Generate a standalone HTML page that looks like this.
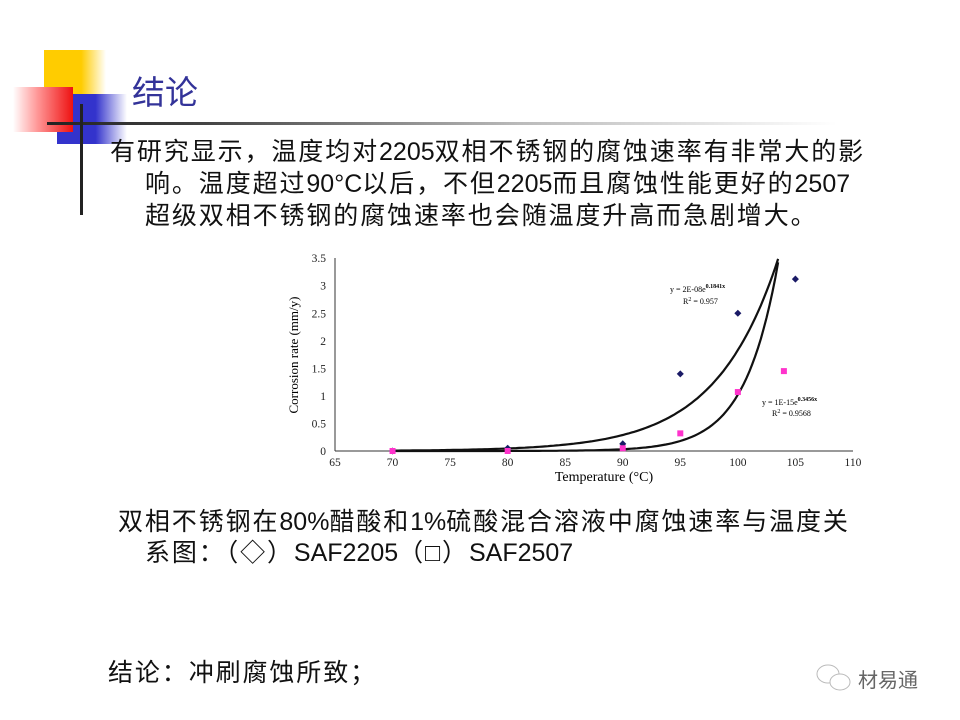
<!DOCTYPE html>
<html><head><meta charset="utf-8"><style>
html,body{margin:0;padding:0;background:#fff;}
body{width:960px;height:720px;position:relative;overflow:hidden;font-family:"Liberation Sans","Noto Sans CJK SC",sans-serif;}
.a{position:absolute;}
.t{position:absolute;font-size:25px;color:#111;white-space:nowrap;line-height:32px;letter-spacing:1.9px;}
.t b{font-weight:normal;letter-spacing:0;font-size:25px;}
</style></head><body>
<div class="a" style="left:44px;top:50px;width:62px;height:50px;background:linear-gradient(90deg,#ffcc00 0%,#ffcc00 60%,#fff 100%);"></div>
<div class="a" style="left:57px;top:94px;width:70px;height:50px;background:linear-gradient(90deg,#3333cc 0%,#3333cc 55%,#fff 100%);"></div>
<div class="a" style="left:13px;top:87px;width:60px;height:45px;background:linear-gradient(90deg,#fff 0%,#ff9999 40%,#ee1111 100%);"></div>
<div class="a" style="left:47px;top:122px;width:790px;height:3px;background:linear-gradient(90deg,#222 0%,#444 20%,#bbb 60%,#fff 100%);"></div>
<div class="a" style="left:80px;top:104px;width:3px;height:111px;background:#222;"></div>
<div class="a" style="left:132px;top:66px;font-size:33px;color:#333399;font-family:'Noto Sans CJK SC',sans-serif;">结论</div>
<div class="t" style="left:110px;top:136px;">有研究显示，温度均对<b>2205</b>双相不锈钢的腐蚀速率有非常大的影</div>
<div class="t" style="left:145px;top:168px;">响。温度超过<b>90°C</b>以后，不但<b>2205</b>而且腐蚀性能更好的<b>2507</b></div>
<div class="t" style="left:145px;top:200px;">超级双相不锈钢的腐蚀速率也会随温度升高而急剧增大。</div>
<svg class="a" style="left:0;top:0" width="960" height="720" font-family="Liberation Serif,serif">
<g stroke="#333" stroke-width="1" fill="none">
<line x1="335" y1="258" x2="335" y2="451"/><line x1="335" y1="451" x2="853" y2="451"/>
</g>
<g id="ax" font-size="11.5" fill="#222"></g>
<text x="298" y="355" font-size="13" transform="rotate(-90 298 355)" text-anchor="middle">Corrosion rate (mm/y)</text>
<text x="604" y="481" font-size="14" text-anchor="middle">Temperature (°C)</text>
<path id="c1" fill="none" stroke="#111" stroke-width="2.2"/>
<path id="c2" fill="none" stroke="#111" stroke-width="2.2"/>
<g id="pts"></g>
<text x="670" y="292" font-size="8">y = 2E-08e<tspan dy="-4" font-size="6" font-weight="bold">0.1841x</tspan></text>
<text x="683" y="304" font-size="8">R<tspan dy="-3" font-size="6">2</tspan><tspan dy="3"> = 0.957</tspan></text>
<text x="762" y="405" font-size="8">y = 1E-15e<tspan dy="-4" font-size="6" font-weight="bold">0.3456x</tspan></text>
<text x="772" y="416" font-size="8">R<tspan dy="-3" font-size="6">2</tspan><tspan dy="3"> = 0.9568</tspan></text>
<g fill="#fff" stroke="#bbb" stroke-width="1">
<ellipse cx="828" cy="674" rx="11" ry="9"/><ellipse cx="840" cy="682" rx="10" ry="8"/>
</g>
</svg>
<div class="t" style="left:118px;top:506px;">双相不锈钢在<b>80%</b>醋酸和<b>1%</b>硫酸混合溶液中腐蚀速率与温度关</div>
<div class="t" style="left:145px;top:537px;">系图：（◇）<b>SAF2205</b>（□）<b>SAF2507</b></div>
<div class="t" style="left:108px;top:657px;">结论：冲刷腐蚀所致；</div>
<div class="a" style="left:858px;top:664px;font-size:20px;color:#666;font-family:'Noto Sans CJK SC',sans-serif;">材易通</div>
<script>
var X=function(v){return 335+(v-65)*11.51},Y=function(v){return 451-v*55.1};
var ax=document.getElementById('ax'),h='';
for(var i=0;i<=7;i++){var v=i*0.5;h+='<text x="326" y="'+(Y(v)+4)+'" text-anchor="end">'+(v?String(v):'0')+'</text>';}
for(var x=65;x<=110;x+=5){h+='<text x="'+X(x)+'" y="466" text-anchor="middle">'+x+'</text>';}
ax.innerHTML=h;
function cv(a,b,xe){var d='';for(var x=70;x<=xe;x+=0.25){var y=a*Math.exp(b*x);d+=(d?'L':'M')+X(x).toFixed(1)+' '+Y(y).toFixed(1);}return d;}
document.getElementById('c1').setAttribute('d',cv(1.85e-8,0.1841,103.6));
document.getElementById('c2').setAttribute('d',cv(1e-15,0.3456,103.6));
var p='';
[[70,0],[80,0.05],[90,0.13],[95,1.4],[100,2.5],[105,3.12]].forEach(function(q){p+='<rect x="'+(X(q[0])-2.5)+'" y="'+(Y(q[1])-2.5)+'" width="5" height="5" fill="#1a1a66" transform="rotate(45 '+X(q[0])+' '+Y(q[1])+')"/>';});
[[70,0],[80,0],[90,0.05],[95,0.32],[100,1.07],[104,1.45]].forEach(function(q){p+='<rect x="'+(X(q[0])-3)+'" y="'+(Y(q[1])-3)+'" width="6" height="6" fill="#ff33cc"/>';});
document.getElementById('pts').innerHTML=p;
</script>
</body></html>
